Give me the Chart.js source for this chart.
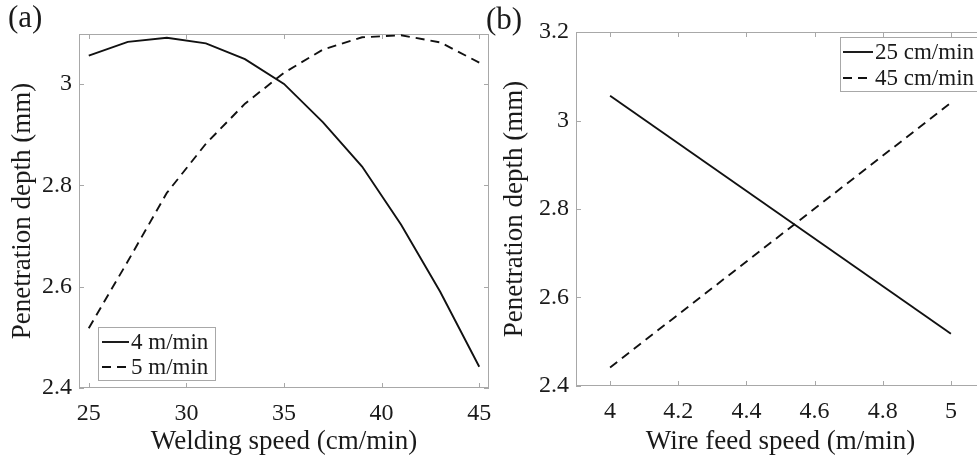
<!DOCTYPE html>
<html><head><meta charset="utf-8">
<script src="https://cdn.jsdelivr.net/npm/chart.js@4.4.0/dist/chart.umd.min.js"></script>
<style>
html,body{margin:0;padding:0;width:977px;height:459px;overflow:hidden;background:#fff;}
.c{position:absolute;top:0;}
#ca{left:0;}
#cb{left:490px;}
.lab{position:absolute;font-family:"Liberation Serif";font-size:31px;line-height:1.15;color:#1a1a1a;}
</style></head><body>
<canvas id="ca" class="c" width="500" height="459"></canvas>
<canvas id="cb" class="c" width="497" height="459"></canvas>
<div class="lab" style="left:8px;top:-1px">(a)</div>
<div class="lab" style="left:486px;top:1px">(b)</div>
<script>
// ---- data ----
const weldingSpeed = [25, 27, 29, 31, 33, 35, 37, 39, 41, 43, 45];
const depthWire4 = [3.056, 3.083, 3.091, 3.080, 3.049, 3.000, 2.924, 2.837, 2.722, 2.590, 2.442];
const depthWire5 = [2.518, 2.650, 2.785, 2.882, 2.961, 3.022, 3.068, 3.092, 3.096, 3.082, 3.042];
const wireFeedSpeed = [4, 5];
const depthWeld25 = [3.056, 2.518];
const depthWeld45 = [2.442, 3.040];
const ticksAx = [25, 30, 35, 40, 45];
const ticksAy = [2.4, 2.6, 2.8, 3.0];
const ticksBx = [4, 4.2, 4.4, 4.6, 4.8, 5];
const ticksBy = [2.4, 2.6, 2.8, 3.0, 3.2];

const SERIF = "'Liberation Serif', 'Times New Roman', serif";
const TXT = '#1a1a1a';
const GREY = '#a8a8a8';
const fmt = v => String(Math.round(v * 10) / 10);

const frame = {
  id: 'frame',
  beforeDatasetsDraw(chart, args, o) {
    const {ctx, chartArea: a, scales: {x, y}} = chart;
    ctx.save();
    ctx.strokeStyle = GREY; ctx.lineWidth = 1;
    ctx.strokeRect(a.left + 0.5, a.top + 0.5, a.right - a.left - 1, a.bottom - a.top - 1);
    const L = 5;
    ctx.beginPath();
    x.ticks.forEach(t => {
      const p = Math.round(x.getPixelForValue(t.value)) + 0.5;
      ctx.moveTo(p, a.bottom); ctx.lineTo(p, a.bottom - L);
      ctx.moveTo(p, a.top); ctx.lineTo(p, a.top + L);
    });
    y.ticks.forEach(t => {
      const p = Math.round(y.getPixelForValue(t.value)) + 0.5;
      ctx.moveTo(a.left, p); ctx.lineTo(a.left + L, p);
      ctx.moveTo(a.right, p); ctx.lineTo(a.right - L, p);
    });
    ctx.stroke();
    ctx.restore();
  },
  afterDatasetsDraw(chart, args, o) {
    const {ctx} = chart;
    const g = o.legend;
    ctx.save();
    ctx.fillStyle = '#fff';
    ctx.fillRect(g.x, g.y, g.w, g.h);
    ctx.strokeStyle = GREY; ctx.lineWidth = 1;
    ctx.strokeRect(g.x + 0.5, g.y + 0.5, g.w, g.h);
    chart.data.datasets.forEach((d, i) => {
      const yy = g.rows[i];
      ctx.strokeStyle = d.borderColor; ctx.lineWidth = d.borderWidth;
      ctx.setLineDash(d.borderDash || []);
      ctx.beginPath(); ctx.moveTo(g.sx0, yy); ctx.lineTo(g.sx1, yy); ctx.stroke();
      ctx.setLineDash([]);
      ctx.fillStyle = TXT;
      ctx.font = g.font + 'px ' + SERIF;
      ctx.textBaseline = 'middle'; ctx.textAlign = 'left';
      ctx.fillText(d.label, g.tx, yy + 1);
    });
    ctx.restore();
  }
};

function axes(xmin, xmax, xt, ymin, ymax, yt, yW, xH, xTitle, yPad) {
  const tickFont = {family: SERIF, size: 24};
  const titleFont = {family: SERIF, size: 27};
  return {
    x: {
      type: 'linear', min: xmin, max: xmax,
      afterBuildTicks: s => { s.ticks = xt.map(v => ({value: v})); },
      afterFit: s => { s.height = xH; s.paddingLeft = 0; s.paddingRight = 0; },
      grid: {display: false, drawTicks: false}, border: {display: false},
      ticks: {autoSkip: false, maxRotation: 0, padding: 11, color: TXT, font: tickFont, callback: fmt},
      title: {display: true, text: xTitle, color: TXT, font: titleFont, padding: {top: 1, bottom: 1}}
    },
    y: {
      type: 'linear', min: ymin, max: ymax,
      afterBuildTicks: s => { s.ticks = yt.map(v => ({value: v})); },
      afterFit: s => { s.width = yW; s.paddingTop = 0; s.paddingBottom = 0; },
      grid: {display: false, drawTicks: false}, border: {display: false},
      ticks: {autoSkip: false, padding: 7, color: TXT, font: tickFont, callback: fmt},
      title: {display: true, text: 'Penetration depth (mm)', color: TXT, font: titleFont, padding: {top: yPad, bottom: 0}}
    }
  };
}

function line(label, xs, ys, dash) {
  return {
    label, data: xs.map((v, i) => ({x: v, y: ys[i]})),
    borderColor: '#111', borderWidth: 1.9, borderDash: dash,
    pointRadius: 0, tension: 0, fill: false
  };
}

function build() {
  new Chart(document.getElementById('ca'), {
    type: 'line',
    data: {datasets: [
      line('4 m/min', weldingSpeed, depthWire4, []),
      line('5 m/min', weldingSpeed, depthWire5, [9, 6])
    ]},
    options: {
      responsive: false, animation: false,
      layout: {padding: {top: 34, right: 11, left: 0, bottom: 0}},
      scales: axes(24.5, 45.5, ticksAx, 2.4, 3.0985, ticksAy, 79, 71, 'Welding speed (cm/min)', 7),
      plugins: {
        legend: {display: false}, tooltip: {enabled: false},
        frame: {legend: {x: 98, y: 327, w: 117, h: 53, rows: [342, 367], sx0: 102, sx1: 129, tx: 131, font: 23}}
      }
    },
    plugins: [frame]
  });

  new Chart(document.getElementById('cb'), {
    type: 'line',
    data: {datasets: [
      line('25 cm/min', wireFeedSpeed, depthWeld25, []),
      line('45 cm/min', wireFeedSpeed, depthWeld45, [9, 6])
    ]},
    options: {
      responsive: false, animation: false,
      layout: {padding: {top: 32, right: 2, left: 0, bottom: 0}},
      scales: axes(3.9, 5.1, ticksBx, 2.4, 3.2, ticksBy, 86, 73, 'Wire feed speed (m/min)', 9),
      plugins: {
        legend: {display: false}, tooltip: {enabled: false},
        frame: {legend: {x: 350, y: 37, w: 200, h: 54, rows: [52, 78], sx0: 353, sx1: 383, tx: 385, font: 23}}
      }
    },
    plugins: [frame]
  });
}

if (document.fonts && document.fonts.load) {
  Promise.all([
    document.fonts.load("24px 'Liberation Serif'"),
    document.fonts.load("27px 'Liberation Serif'")
  ]).then(build, build);
} else {
  build();
}
</script>
</body></html>
